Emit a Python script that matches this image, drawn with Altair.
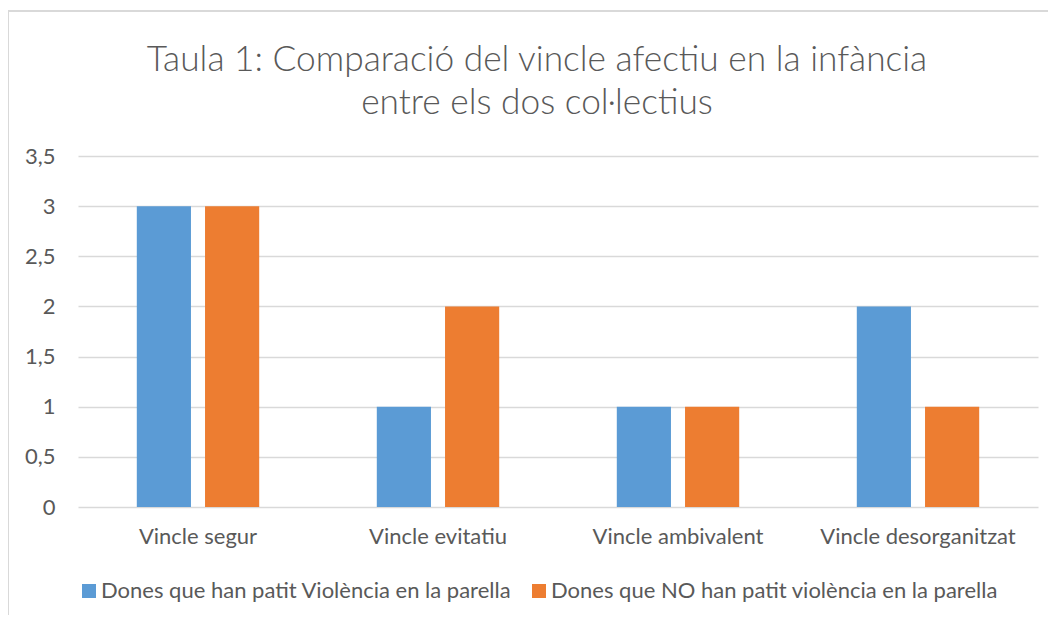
import altair as alt
import pandas as pd

categories = ["Vincle segur", "Vincle evitatiu", "Vincle ambivalent", "Vincle desorganitzat"]
series_names = [
    "Dones que han patit Violència en la parella",
    "Dones que NO han patit violència en la parella",
]
values_violencia = [3, 1, 1, 2]
values_no_violencia = [3, 2, 1, 1]
colors = ["#5B9BD5", "#ED7D31"]
y_ticks = [0, 0.5, 1, 1.5, 2, 2.5, 3, 3.5]

rows = []
for c, v1, v2 in zip(categories, values_violencia, values_no_violencia):
    rows.append({"cat": c, "serie": series_names[0], "valor": v1})
    rows.append({"cat": c, "serie": series_names[1], "valor": v2})
df = pd.DataFrame(rows)

FONT = "Lato"
GREY = "#595959"
LBL = 22

bars = alt.Chart(df).mark_bar().encode(
    x=alt.X("cat:N", sort=categories, title=None,
            scale=alt.Scale(paddingInner=0.49, paddingOuter=0.245),
            axis=alt.Axis(labelAngle=0, domain=False, ticks=False, labelPadding=19,
                          labelFontSize=LBL, labelColor=GREY, labelFont=FONT, grid=False,
                          labelLimit=0)),
    xOffset=alt.XOffset("serie:N", sort=series_names,
                        scale=alt.Scale(paddingInner=0.206, paddingOuter=0)),
    y=alt.Y("valor:Q", title=None,
            scale=alt.Scale(domain=[0, 3.5], nice=False),
            axis=alt.Axis(values=y_ticks, domain=False, ticks=False, labelPadding=23,
                          labelFontSize=LBL, labelColor=GREY, labelFont=FONT,
                          gridColor="#D9D9D9", gridWidth=1.3,
                          labelExpr="replace(format(datum.value, '~g'), '.', ',')")),
    color=alt.Color("serie:N", sort=series_names,
                    scale=alt.Scale(domain=series_names, range=colors),
                    legend=alt.Legend(title=None, orient="none", direction="horizontal",
                                      legendX=0, legendY=424, symbolType="square",
                                      symbolSize=196, symbolStrokeWidth=0, labelFontSize=LBL,
                                      labelColor=GREY, labelFont=FONT, labelOffset=1,
                                      columnPadding=16, labelLimit=0)),
)

frame_top = alt.Chart(df).mark_rule(color="#D9D9D9", strokeWidth=1.5).encode(
    x=alt.value(-70), x2=alt.value(970), y=alt.value(-145)
)
frame_left = alt.Chart(df).mark_rule(color="#D9D9D9", strokeWidth=1.5).encode(
    x=alt.value(-70), y=alt.value(-145), y2=alt.value(460)
)

chart = alt.layer(bars, frame_top, frame_left).properties(
    width=960,
    height=351,
    padding={"left": 70, "top": 148, "right": 10, "bottom": 108},
    autosize=alt.AutoSizeParams(type="none"),
    title=alt.TitleParams(
        text=["Taula 1: Comparació del vincle afectiu en la infància",
              "entre els dos col·lectius"],
        anchor="middle", fontSize=35.3, font=FONT, fontWeight=300, color=GREY,
        lineHeight=43, dx=-21, offset=-111,
    ),
).configure_view(stroke=None)

chart.save("out.html", embed_options={"renderer": "svg", "actions": False})
